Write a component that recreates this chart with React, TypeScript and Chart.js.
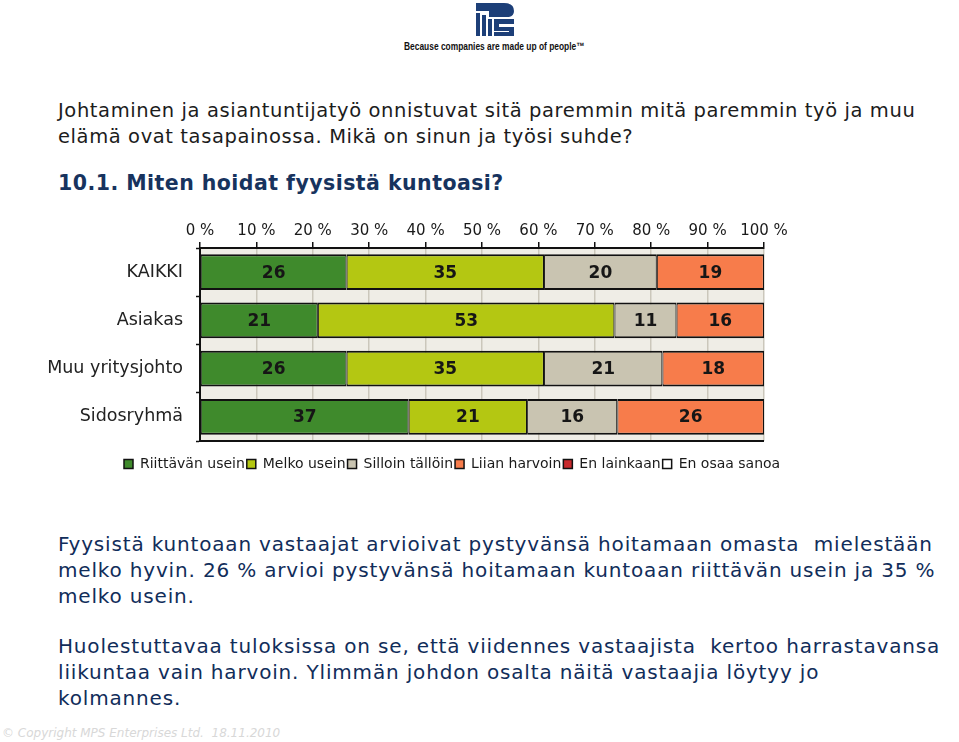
import React, { useEffect, useRef } from 'react';
import { Chart, registerables } from 'chart.js';

Chart.register(...registerables);

// ---- data ----
const categories = ['KAIKKI', 'Asiakas', 'Muu yritysjohto', 'Sidosryhmä'];
const seriesNames = ['Riittävän usein', 'Melko usein', 'Silloin tällöin', 'Liian harvoin', 'En lainkaan', 'En osaa sanoa'];
const riittavanUsein = [26, 20.9, 26, 37];
const melkoUsein = [35, 52.6, 35, 21];
const silloinTalloin = [20, 11.0, 21, 16];
const liianHarvoin = [19, 15.5, 18, 26];
const enLainkaan = [0, 0, 0, 0];
const enOsaaSanoa = [0, 0, 0, 0];
const xTickValues = [0, 10, 20, 30, 40, 50, 60, 70, 80, 90, 100];
const seriesColors = ['#3f8a2c', '#b4c712', '#c9c4b1', '#f77c4b', '#c8292c', '#ffffff'];

const allSeries = [riittavanUsein, melkoUsein, silloinTalloin, liianHarvoin, enLainkaan, enOsaaSanoa];

const FONT = '"DejaVu Sans", Verdana, sans-serif';
const LEGEND_PAD = 2;
const LEGEND_LEFT = 124;
const LEGEND_CENTER_Y = 249; // canvas coords
const LEGEND_FONT = 14;

const valueLabels = {
  id: 'valueLabels',
  afterDatasetsDraw(chart: any) {
    const ctx = chart.ctx;
    ctx.save();
    ctx.font = 'bold 17px ' + FONT;
    ctx.fillStyle = '#161616';
    ctx.textAlign = 'center';
    ctx.textBaseline = 'middle';
    chart.data.datasets.forEach((ds: any, i: number) => {
      if (!chart.isDatasetVisible(i)) return;
      const meta = chart.getDatasetMeta(i);
      meta.data.forEach((el: any, j: number) => {
        const v = ds.data[j];
        if (v == null || v === 0) return;
        const p = el.getProps(['x', 'y', 'base'], true);
        ctx.fillText(String(Math.round(v)), (p.x + p.base) / 2, p.y + 1);
      });
    });
    ctx.restore();
  },
};

const plotBackground = {
  id: 'plotBackground',
  beforeDraw(chart: any) {
    const { ctx, chartArea } = chart;
    ctx.save();
    ctx.fillStyle = '#efede6';
    ctx.fillRect(chartArea.left, chartArea.top, chartArea.right - chartArea.left, chartArea.bottom - chartArea.top);
    ctx.restore();
  },
  afterDraw(chart: any) {
    const { ctx, chartArea } = chart;
    ctx.save();
    ctx.strokeStyle = '#111';
    ctx.lineWidth = 2;
    ctx.beginPath();
    ctx.moveTo(chartArea.left, chartArea.bottom);
    ctx.lineTo(chartArea.right, chartArea.bottom);
    ctx.stroke();
    ctx.restore();
  },
};

const legendPlacer = {
  id: 'legendPlacer',
  afterLayout(chart: any) {
    const lg = chart.legend;
    if (!lg) return;
    const w = lg.right - lg.left;
    const h = lg.bottom - lg.top;
    lg.left = LEGEND_LEFT - LEGEND_PAD;
    lg.right = lg.left + w;
    lg.top = LEGEND_CENTER_Y - LEGEND_PAD - LEGEND_FONT / 2;
    lg.bottom = lg.top + h;
  },
};

function BarChart() {
  const ref = useRef<HTMLCanvasElement | null>(null);
  useEffect(() => {
    if (!ref.current) return;
    const chart = new Chart(ref.current, {
      type: 'bar',
      data: {
        labels: categories,
        datasets: seriesNames.map((name, i) => ({
          label: name,
          data: allSeries[i].map((v) => (v === 0 ? null : v)),
          backgroundColor: seriesColors[i],
          borderColor: '#111111',
          borderWidth: { top: 2, bottom: 2, left: 1, right: 1.2 },
          borderSkipped: false,
          barPercentage: 0.74,
          categoryPercentage: 1,
        })),
      },
      options: {
        indexAxis: 'y',
        animation: false,
        responsive: false,
        maintainAspectRatio: false,
        layout: { padding: { left: 0, right: 195, top: 0, bottom: 20 } },
        scales: {
          x: {
            position: 'top',
            stacked: true,
            min: 0,
            max: 100,
            afterBuildTicks(scale: any) {
              scale.ticks = xTickValues.map((v) => ({ value: v }));
            },
            afterFit(scale: any) {
              scale.height = 33;
            },
            ticks: {
              callback: (v: any) => v + ' %',
              font: { family: FONT, size: 15 },
              color: '#1a1a1a',
              padding: 2,
              maxRotation: 0,
            },
            grid: {
              color: '#cbc7bb',
              lineWidth: 1.5,
              tickColor: '#111',
              tickLength: 6,
              tickWidth: 1.5,
            },
            border: { display: true, color: '#111', width: 2 },
          },
          y: {
            stacked: true,
            afterFit(scale: any) {
              scale.width = 200;
            },
            ticks: {
              font: { family: FONT, size: 17.5 },
              color: '#222',
              padding: 13,
            },
            grid: {
              drawOnChartArea: false,
              offset: true,
              tickColor: '#111',
              tickLength: 4,
              tickWidth: 1.5,
            },
            border: { display: true, color: '#111', width: 2 },
          },
        },
        plugins: {
          tooltip: { enabled: false },
          legend: {
            position: 'bottom',
            align: 'start',
            labels: {
              boxWidth: 9,
              boxHeight: 9,
              padding: LEGEND_PAD,
              color: '#1a1a1a',
              font: { family: FONT, size: LEGEND_FONT },
              generateLabels(chart: any) {
                const items = Chart.defaults.plugins.legend.labels.generateLabels(chart);
                return items.map((it: any) => ({ ...it, lineWidth: 1.5, hidden: false }));
              },
            },
          },
        },
      },
      plugins: [plotBackground, valueLabels, legendPlacer],
    } as any);
    return () => chart.destroy();
  }, []);
  return (
    <canvas
      ref={ref}
      width={959}
      height={272}
      style={{ position: 'absolute', left: 0, top: 215, width: 959, height: 272 }}
    />
  );
}

function Logo() {
  const blue = '#1d3f78';
  return (
    <div style={{ position: 'absolute', left: 0, top: 0, width: 959, height: 60 }}>
      <svg width={40} height={34} style={{ position: 'absolute', left: 476, top: 3 }} viewBox="0 0 40 34">
        <path d={`M0 0 H28 Q38 0 38 8 Q38 13 33 14 H13 V8 H0 Z`} fill={blue} />
        <rect x={0} y={10} width={4} height={23} fill={blue} />
        <rect x={6} y={12} width={4} height={21} fill={blue} />
        <rect x={12} y={16} width={4} height={17} fill={blue} />
        <rect x={18} y={16} width={20} height={5} fill={blue} />
        <rect x={18} y={21} width={5} height={4} fill={blue} />
        <rect x={18} y={24} width={20} height={4} fill={blue} />
        <rect x={33} y={27} width={5} height={3} fill={blue} />
        <rect x={18} y={29} width={20} height={4} fill={blue} />
      </svg>
      <div
        style={{
          position: 'absolute',
          left: 404,
          top: 40,
          fontFamily: '"Liberation Sans", Arial, sans-serif',
          fontWeight: 'bold',
          fontSize: 10.5,
          color: '#111',
          whiteSpace: 'nowrap',
          transform: 'scaleX(0.8)',
          transformOrigin: 'left top',
        }}
      >
        Because companies are made up of people™
      </div>
    </div>
  );
}

export default function App() {
  const textBase: React.CSSProperties = {
    position: 'absolute',
    left: 58,
    fontFamily: FONT,
    fontSize: 19.5,
    letterSpacing: 0.6,
    lineHeight: '26px',
    whiteSpace: 'pre',
  };
  const bodyText: React.CSSProperties = { ...textBase, fontSize: 20, letterSpacing: 0.83, color: '#112d5a' };
  return (
    <div style={{ position: 'absolute', left: 0, top: 0, width: 959, height: 742, background: '#fff', overflow: 'hidden' }}>
      <Logo />
      <div style={{ ...textBase, top: 98, color: '#1c1c1c' }}>
        {'Johtaminen ja asiantuntijatyö onnistuvat sitä paremmin mitä paremmin työ ja muu\nelämä ovat tasapainossa. Mikä on sinun ja työsi suhde?'}
      </div>
      <div style={{ ...textBase, top: 170, color: '#17335e', fontWeight: 'bold', fontSize: 20.5, letterSpacing: 0.45 }}>
        {'10.1. Miten hoidat fyysistä kuntoasi?'}
      </div>
      <BarChart />
      <div style={{ ...bodyText, top: 531 }}>
        {'Fyysistä kuntoaan vastaajat arvioivat pystyvänsä hoitamaan omasta  mielestään\nmelko hyvin. 26 % arvioi pystyvänsä hoitamaan kuntoaan riittävän usein ja 35 %\nmelko usein.'}
      </div>
      <div style={{ ...bodyText, top: 633 }}>
        {'Huolestuttavaa tuloksissa on se, että viidennes vastaajista  kertoo harrastavansa\nliikuntaa vain harvoin. Ylimmän johdon osalta näitä vastaajia löytyy jo\nkolmannes.'}
      </div>
      <div
        style={{
          position: 'absolute',
          left: 2,
          top: 726,
          fontFamily: FONT,
          fontStyle: 'italic',
          fontSize: 12,
          color: '#d8d8d8',
          whiteSpace: 'pre',
        }}
      >
        {'© Copyright MPS Enterprises Ltd.  18.11.2010'}
      </div>
    </div>
  );
}
